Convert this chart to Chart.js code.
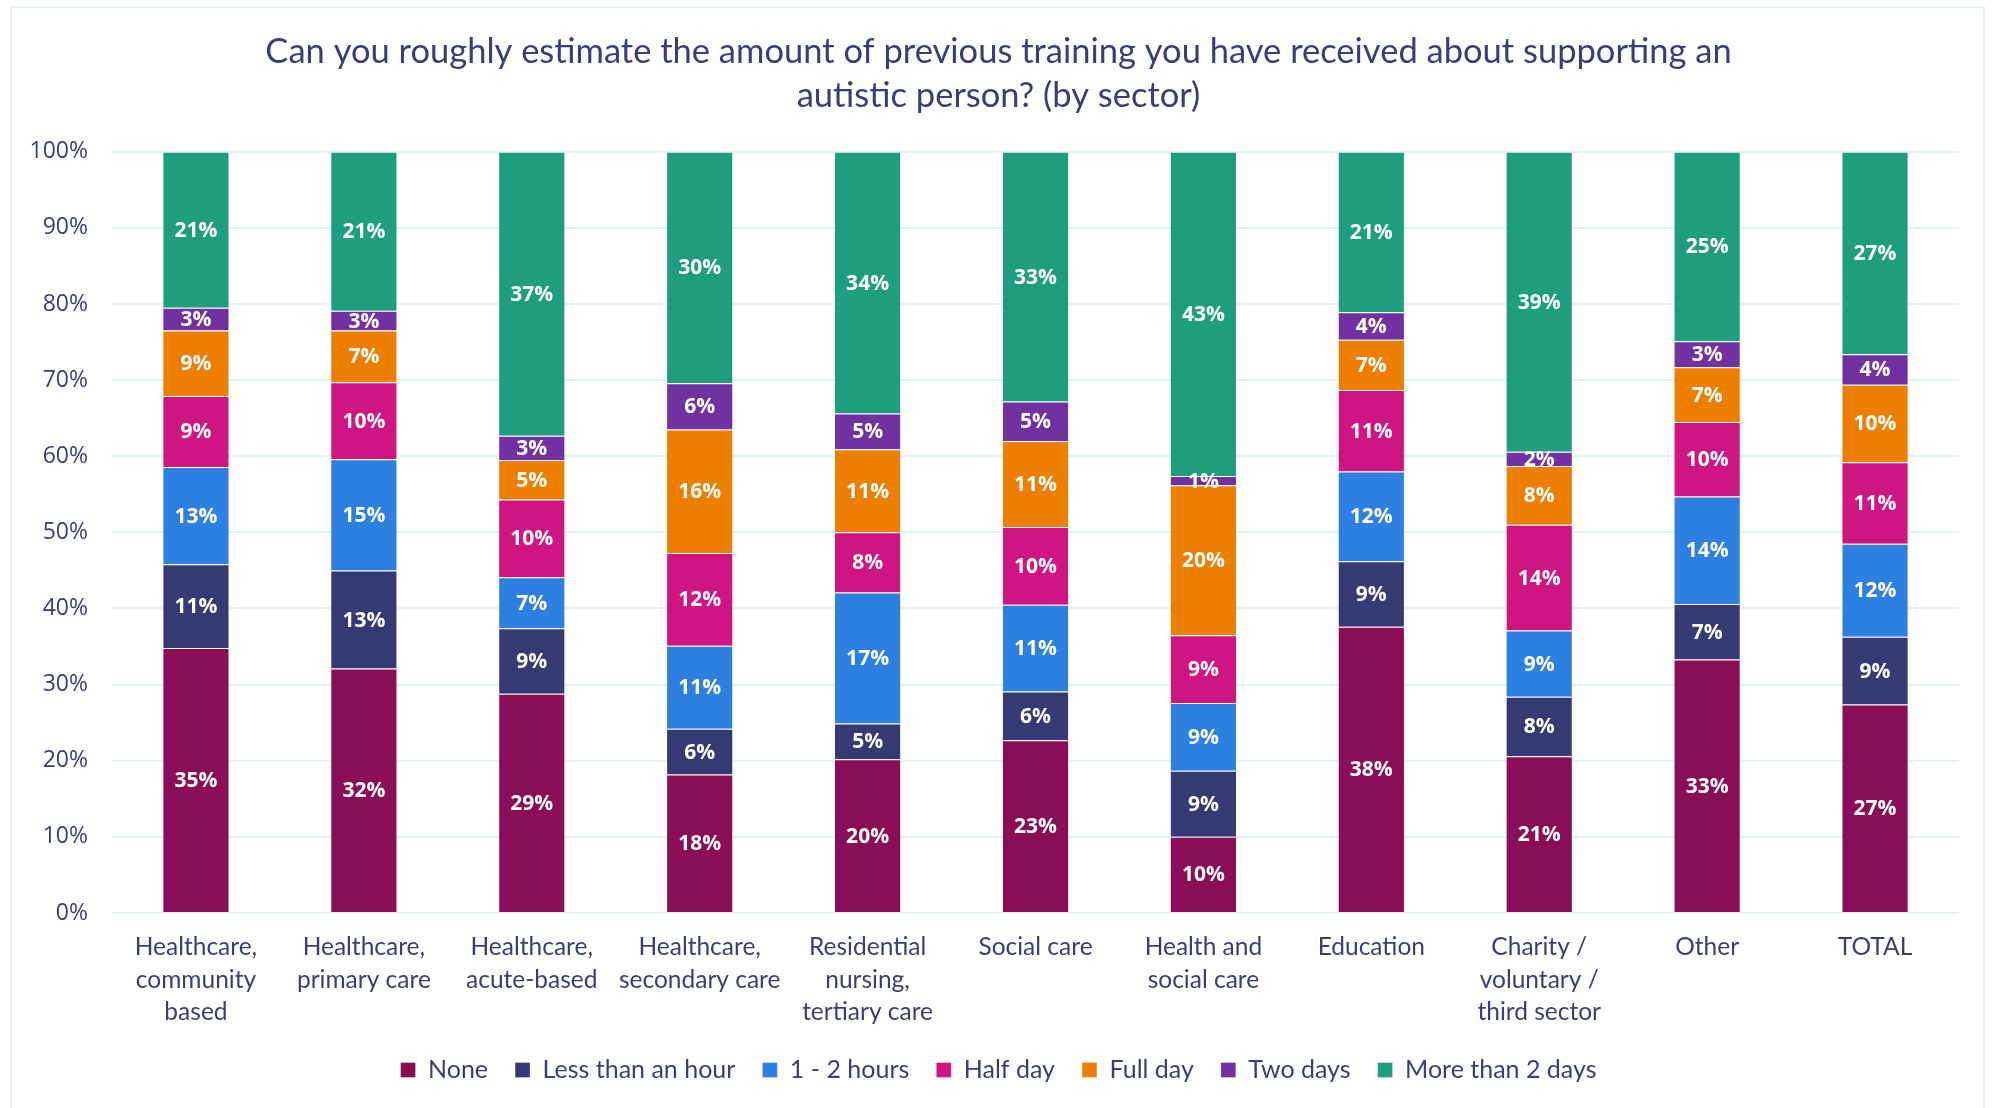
<!DOCTYPE html>
<html>
<head>
<meta charset="utf-8">
<title>Previous autism training by sector</title>
<script src="https://cdn.jsdelivr.net/npm/chart.js@4.4.1/dist/chart.umd.min.js"></script>
<style>
  html,body{margin:0;padding:0;background:#fff;}
  #wrap{position:relative;width:1997px;height:1108px;}
  #frame{position:absolute;left:10px;top:6px;width:1975px;height:1110px;border:2px solid #e0f5ef;box-sizing:border-box;pointer-events:none;}
  canvas{position:absolute;left:0;top:0;}
</style>
</head>
<body>
<div id="wrap">
  <canvas id="chart" width="1997" height="1108"></canvas>
  <div id="frame"></div>
</div>
<script>
// ---------- data (share of respondents, %) ----------
const SECTORS = [
  ["Healthcare,", "community", "based"],
  ["Healthcare,", "primary care"],
  ["Healthcare,", "acute-based"],
  ["Healthcare,", "secondary care"],
  ["Residential", "nursing,", "tertiary care"],
  "Social care",
  ["Health and", "social care"],
  "Education",
  ["Charity /", "voluntary /", "third sector"],
  "Other",
  "TOTAL"
];

const NONE        = [34.8, 32.1, 28.8, 18.2, 20.2, 22.7, 10.0, 37.6, 20.6, 33.3, 27.4];
const UNDER_HOUR  = [11.0, 12.9,  8.6,  6.0,  4.7,  6.4,  8.7,  8.6,  7.8,  7.3,  8.9];
const ONE_TWO_HRS = [12.8, 14.6,  6.7, 10.9, 17.2, 11.4,  8.9, 11.8,  8.7, 14.1, 12.2];
const HALF_DAY    = [ 9.3, 10.1, 10.2, 12.2,  7.9, 10.2,  8.9, 10.7, 13.9,  9.8, 10.7];
const FULL_DAY    = [ 8.6,  6.8,  5.2, 16.2, 10.9, 11.3, 19.7,  6.6,  7.7,  7.2, 10.2];
const TWO_DAYS    = [ 3.0,  2.6,  3.2,  6.1,  4.7,  5.2,  1.2,  3.6,  1.9,  3.4,  4.0];
const MORE_THAN_2 = [20.5, 20.9, 37.3, 30.4, 34.4, 32.8, 42.6, 21.1, 39.4, 24.9, 26.6];

const SERIES = [
  {label: "None",              data: NONE,        color: "#8a0e56"},
  {label: "Less than an hour", data: UNDER_HOUR,  color: "#363a72"},
  {label: "1 - 2 hours",       data: ONE_TWO_HRS, color: "#2d7fe0"},
  {label: "Half day",          data: HALF_DAY,    color: "#cf1582"},
  {label: "Full day",          data: FULL_DAY,    color: "#ec7f00"},
  {label: "Two days",          data: TWO_DAYS,    color: "#7131a1"},
  {label: "More than 2 days",  data: MORE_THAN_2, color: "#1f9e7f"}
];

const Y_TICKS = [0, 10, 20, 30, 40, 50, 60, 70, 80, 90, 100];

const TEXT = "#3a3e76";
const GRID = "#e0f5ef";

// ---------- white % labels in the middle of every segment ----------
const segLabels = {
  id: "segLabels",
  afterDatasetsDraw(chart){
    const ctx = chart.ctx;
    ctx.save();
    ctx.font = "bold 21px 'Open Sans'";
    ctx.fillStyle = "#fff";
    ctx.textAlign = "center";
    ctx.textBaseline = "middle";
    chart.data.datasets.forEach((ds, i) => {
      chart.getDatasetMeta(i).data.forEach((bar, j) => {
        const {x, y, base} = bar.getProps(["x", "y", "base"], true);
        ctx.fillText(Math.round(ds.data[j]) + "%", x, (y + base) / 2 + 1);
      });
    });
    ctx.restore();
  }
};

new Chart(document.getElementById("chart"), {
  type: "bar",
  data: {
    labels: SECTORS,
    datasets: SERIES.map(s => ({
      label: s.label,
      data: s.data,
      backgroundColor: s.color,
      borderColor: "rgba(255,255,255,0.35)",
      borderWidth: 1,
      barPercentage: 0.4,
      categoryPercentage: 1.0
    }))
  },
  options: {
    responsive: false,
    animation: false,
    layout: {padding: {left: 0, right: 0, top: 0, bottom: 15.5}},
    plugins: {
      tooltip: {enabled: false},
      title: {
        display: true,
        text: [
          "Can you roughly estimate the amount of previous training you have received about supporting an",
          "autistic person? (by sector)"
        ],
        color: TEXT,
        font: {family: "Lato", size: 34.5, weight: "normal", lineHeight: 1.3},
        padding: {top: 29, bottom: 33}
      },
      legend: {
        position: "bottom",
        labels: {
          color: TEXT,
          font: {family: "Lato", size: 25},
          boxWidth: 15,
          boxHeight: 15,
          padding: 27
        }
      }
    },
    scales: {
      x: {
        stacked: true,
        grid: {display: false, drawTicks: false},
        border: {display: false},
        ticks: {
          color: TEXT,
          font: {family: "Lato", size: 24.5, lineHeight: 1.33},
          padding: 18,
          maxRotation: 0,
          autoSkip: false
        },
        afterFit(scale){ scale.height = 117.5; }
      },
      y: {
        stacked: true,
        min: 0,
        max: 100,
        afterBuildTicks(scale){ scale.ticks = Y_TICKS.map(v => ({value: v})); },
        grid: {color: GRID, lineWidth: 2, drawTicks: false},
        border: {display: false},
        ticks: {
          color: TEXT,
          font: {family: "Open Sans", size: 23},
          padding: 24,
          callback: v => v + "%"
        },
        afterFit(scale){ scale.width = 112; }
      },
      // empty strip on the right so the bars stop short of the frame
      gutter: {
        position: "right",
        display: true,
        grid: {display: false, drawTicks: false},
        border: {display: false},
        ticks: {display: false},
        afterFit(scale){ scale.width = 38; }
      }
    }
  },
  plugins: [segLabels]
});
</script>
</body>
</html>
